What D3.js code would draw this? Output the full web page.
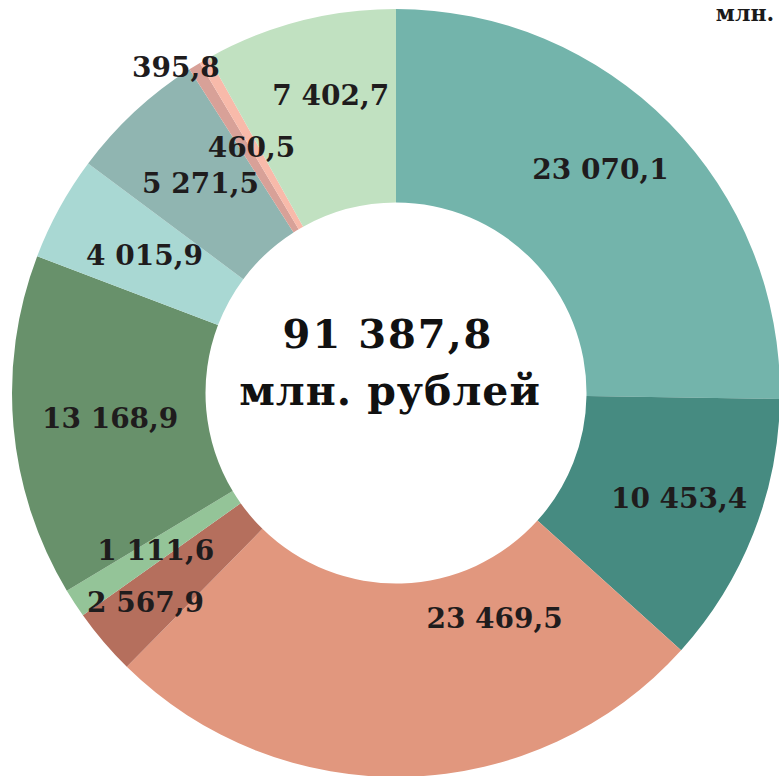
<!DOCTYPE html>
<html><head><meta charset="utf-8">
<script src="https://cdn.jsdelivr.net/npm/d3@7"></script>
<style>html,body{margin:0;padding:0;background:#fff;}svg{display:block;}</style>
</head><body>
<svg id="c" width="779" height="776"></svg>
<script>
const categories = ["s1","s2","s3","s4","s5","s6","s7","s8","s9","s10","s11"];
const values = [23070.1, 10453.4, 23469.5, 2567.9, 1111.6, 13168.9, 4015.9, 5271.5, 460.5, 395.8, 7402.7];
const valueLabels = ["23 070,1","10 453,4","23 469,5","2 567,9","1 111,6","13 168,9","4 015,9","5 271,5","460,5","395,8","7 402,7"];
const totalLabel = "91 387,8";
const unitLabel = "млн. рублей";
const cornerLabel = "млн.";

const colors = ["#73b4ab","#468b81","#e1977e","#b56f5d","#94c498","#68916b","#a9d8d3","#90b5b1","#d8a198","#f8baaa","#c1e1c1"];
// label nudges (layout only)
const nudge = {0:[0,-23],1:[16,0],2:[90,-62],3:[-32,23],8:[6,-2],9:[-24,14],10:[7,-20]};

const svg = d3.select("#c");
const cx = 396, cy = 393, R = 384, r0 = 190.5;
const g = svg.append("g").attr("transform",`translate(${cx},${cy})`);
const pie = d3.pie().sort(null).value(d=>d)(values);
const arc = d3.arc().innerRadius(r0).outerRadius(R);
g.selectAll("path").data(pie).join("path")
  .attr("d",arc).attr("fill",(d,i)=>colors[i]);

const labArc = d3.arc().innerRadius(287).outerRadius(287);
const outArc = d3.arc().innerRadius(393).outerRadius(393);
const font = "'DejaVu Serif', serif";
g.selectAll("text.v").data(pie).join("text").attr("class","v")
  .attr("transform",(d,i)=>{
    const c = (i===9 ? outArc : labArc).centroid(d);
    const n = nudge[i]||[0,0];
    return `translate(${c[0]+n[0]},${c[1]+n[1]})`;
  })
  .attr("text-anchor","middle").attr("dy","0.36em")
  .attr("font-family",font).attr("font-weight","bold").attr("font-size",28)
  .attr("fill","#1f1c1d")
  .text((d,i)=>valueLabels[i]);

g.append("text").attr("x",-8).attr("y",-59).attr("dy","0.36em").attr("text-anchor","middle")
  .attr("font-family",font).attr("font-weight","bold").attr("font-size",40)
  .attr("letter-spacing",2).attr("fill","#111").text(totalLabel);
g.append("text").attr("x",-6).attr("y",-3).attr("dy","0.36em").attr("text-anchor","middle")
  .attr("font-family",font).attr("font-weight","bold").attr("font-size",41)
  .attr("letter-spacing",1).attr("fill","#111").text(unitLabel);

svg.append("text").attr("x",745).attr("y",21).attr("text-anchor","middle")
  .attr("font-family",font).attr("font-weight","bold").attr("font-size",22)
  .attr("fill","#1a1a1a").text(cornerLabel);
</script>
</body></html>
